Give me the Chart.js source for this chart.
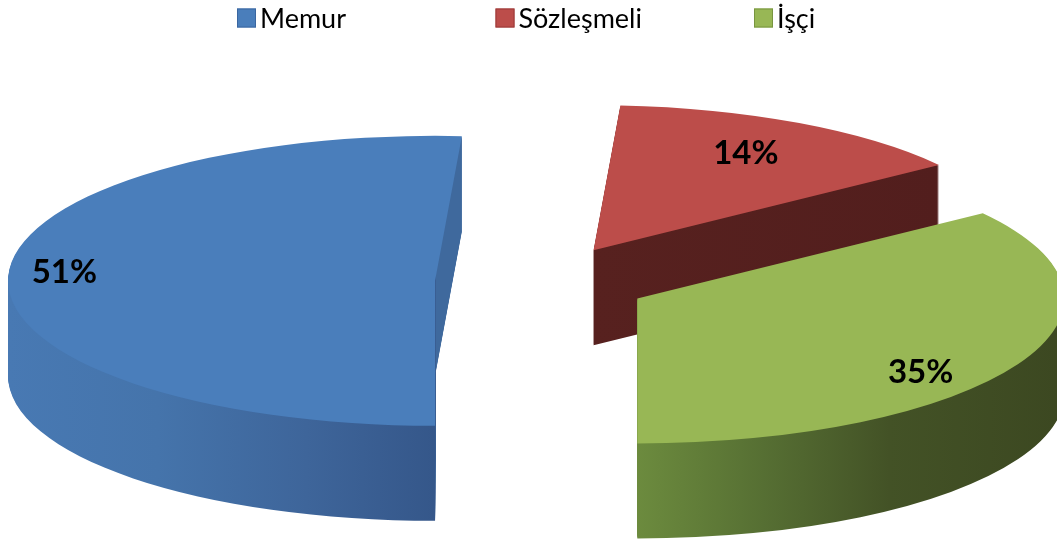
<!DOCTYPE html>
<html lang="tr">
<head>
<meta charset="utf-8">
<title>Personel Dağılımı</title>
<script src="https://cdn.jsdelivr.net/npm/chart.js@4.4.1/dist/chart.umd.min.js"></script>
<style>
  html, body { margin: 0; padding: 0; background: #fff; }
  .chart-container { position: relative; width: 1057px; height: 546px; }
</style>
</head>
<body>
<div class="chart-container"><canvas id="PersonelChart"></canvas></div>
<script>
// Staff by employment type (percent)
const categories = ["Memur", "Sözleşmeli", "İşçi"];
const shares = [51, 14, 35];
const shareLabels = ["51%", "14%", "35%"];

// Top face colours and the shading used for the extruded sides
const topColors = ["#4a7ebb", "#bc4d4a", "#98b755"];
const borderColors = ["#3a66a0", "#9a3a38", "#789540"];
const sideStops = [
  [[0, "#4879b3"], [0.35, "#4574ab"], [0.7, "#3e659a"], [1, "#35578a"]],
  [[0, "#57211f"], [1, "#521e1d"]],
  [[0, "#6c8b3e"], [0.3, "#566f33"], [0.6, "#435226"], [1, "#3c4821"]],
];
// colour of a radial cut face showing to the right of the slice centre
const cutColors = ["#3f699d", null, null];

// 3D pie geometry (screen pixels)
const pieCenter = { x: 542, y: 282 };
const pieRadiusX = 427;
const pieRadiusY = 145;
const explode = 107;
const depth = 95;
const drawOrder = [1, 0, 2]; // back slice first

// label placement: fraction of radius, angle nudge in degrees
const labelPlace = [[0.87, 2], [0.755, -0.6], [0.835, 10.4]];

function sliceTransform(ctx, arc, dy) {
  const sx = pieRadiusX / arc.outerRadius;
  const sy = pieRadiusY / arc.outerRadius;
  const mid = (arc.startAngle + arc.endAngle) / 2;
  const ex = Math.cos(mid) * explode / sx;
  const ey = Math.sin(mid) * explode / sx;
  ctx.translate(pieCenter.x, pieCenter.y + dy);
  ctx.scale(sx, sy);
  ctx.translate(-arc.x + ex, -arc.y + ey);
  return { sx, ex };
}

function sideGradient(ctx, arc, i, sx, ex) {
  // horizontal extent of the slice on screen
  const mid = (arc.startAngle + arc.endAngle) / 2;
  const centerX = pieCenter.x + Math.cos(mid) * explode;
  let minX = centerX, maxX = centerX;
  for (let s = 0; s <= 60; s++) {
    const a = arc.startAngle + (arc.endAngle - arc.startAngle) * s / 60;
    const x = centerX + pieRadiusX * Math.cos(a);
    minX = Math.min(minX, x);
    maxX = Math.max(maxX, x);
  }
  minX = Math.max(minX, 0);
  maxX = Math.min(maxX, 1057);
  const toLocal = (X) => (X - pieCenter.x) / sx + arc.x - ex;
  const g = ctx.createLinearGradient(toLocal(minX), 0, toLocal(maxX), 0);
  if (cutColors[i]) {
    const c = (centerX - minX) / (maxX - minX);
    sideStops[i].forEach(([p, col]) => g.addColorStop(p * c, col));
    g.addColorStop(Math.min(c + 0.003, 1), cutColors[i]);
    g.addColorStop(1, cutColors[i]);
  } else {
    sideStops[i].forEach(([p, col]) => g.addColorStop(p, col));
  }
  return g;
}

const pie3d = {
  id: "pie3d",
  beforeDatasetsDraw(chart) {
    const ctx = chart.ctx;
    const arcs = chart.getDatasetMeta(0).data;
    drawOrder.forEach((i) => {
      const arc = arcs[i];
      const opts = arc.options;
      // extruded side: sweep the slice shape downwards
      for (let k = depth; k >= 1; k--) {
        ctx.save();
        const { sx, ex } = sliceTransform(ctx, arc, k);
        arc.options = Object.assign({}, opts, { backgroundColor: sideGradient(ctx, arc, i, sx, ex) });
        arc.draw(ctx);
        ctx.restore();
      }
      // top face
      arc.options = opts;
      ctx.save();
      sliceTransform(ctx, arc, 0);
      arc.draw(ctx);
      ctx.restore();
    });

    // percentage labels on the top faces
    ctx.save();
    ctx.font = "bold 33px Lato";
    ctx.fillStyle = "#000";
    ctx.textAlign = "center";
    ctx.textBaseline = "middle";
    arcs.forEach((arc, i) => {
      const mid = (arc.startAngle + arc.endAngle) / 2;
      const [f, nudge] = labelPlace[i];
      const a = mid + nudge * Math.PI / 180;
      const x = pieCenter.x + Math.cos(mid) * explode + f * pieRadiusX * Math.cos(a);
      const y = pieCenter.y + Math.sin(mid) * explode * pieRadiusY / pieRadiusX + f * pieRadiusY * Math.sin(a);
      ctx.fillText(shareLabels[i], x, y);
    });
    ctx.restore();
    return false;
  },
};

// legend in evenly spaced columns across the top
const legendStartX = 237;
const legendStep = 258.5;
const legendY = 18;
const legendBox = 19;

const columnLegend = {
  id: "columnLegend",
  afterDraw(chart) {
    const ctx = chart.ctx;
    ctx.save();
    ctx.font = "27px Lato";
    ctx.textBaseline = "middle";
    ctx.lineWidth = 1;
    chart.data.labels.forEach((label, i) => {
      const x = legendStartX + i * legendStep;
      ctx.fillStyle = topColors[i];
      ctx.fillRect(x, legendY - legendBox / 2, legendBox, legendBox);
      ctx.strokeStyle = borderColors[i];
      ctx.strokeRect(x + 0.5, legendY - legendBox / 2 + 0.5, legendBox - 1, legendBox - 1);
      ctx.fillStyle = "#000";
      ctx.fillText(label, x + legendBox + 4, legendY + 1);
    });
    ctx.restore();
  },
};

var ctxPersonel = document.getElementById("PersonelChart").getContext("2d");
var personelChart = new Chart(ctxPersonel, {
  type: "pie",
  data: {
    labels: categories,
    datasets: [
      {
        data: shares,
        backgroundColor: topColors,
        borderWidth: 0,
      },
    ],
  },
  options: {
    responsive: true,
    maintainAspectRatio: false,
    animation: false,
    events: [],
    rotation: 180,
    plugins: {
      legend: { display: false },
      tooltip: { enabled: false },
    },
  },
  plugins: [pie3d, columnLegend],
});
</script>
</body>
</html>
